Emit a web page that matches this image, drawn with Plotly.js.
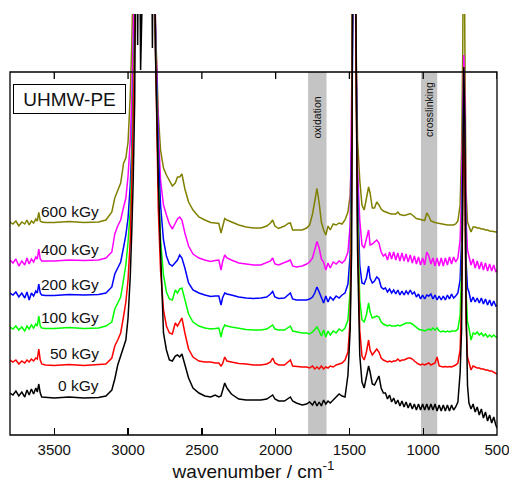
<!DOCTYPE html>
<html>
<head>
<meta charset="utf-8">
<script src="https://cdn.plot.ly/plotly-3.0.1.min.js"></script>
<style>
  html, body { margin: 0; padding: 0; background: #ffffff; }
  #chart { width: 509px; height: 489px; }
</style>
</head>
<body>
<div id="chart"></div>
<script>
// FTIR spectra of UHMW-PE after gamma irradiation, stacked by dose.
// Absorbance values (offset per spectrum); 6 marks a band saturated off the top.
const wavenumber = [
  3800,3780,3760,3740,3720,3700,3685,3670,3655,3640,3625,3615,3605,3595,3585,3560,
  3500,3400,3300,3200,3150,3110,3090,3070,3050,3030,3015,3000,2985,2975,2965,2955,
  2945,2935,2925,2915,2900,2880,2860,2845,2835,2825,
  2815,2805,2795,2780,2760,2740,2720,2700,2680,2665,2650,2635,2615,2590,2560,2520,2480,2440,2410,2385,
  2370,2360,2345,2330,2300,2250,2200,2150,2100,2060,2035,2020,2005,1980,1940,1915,1900,1885,1860,1820,
  1790,1770,1750,1735,1720,1705,1690,1675,1660,1645,1630,1610,1590,1570,1550,1530,1510,1495,1485,1475,
  1465,1455,1445,1430,1415,1400,1385,1370,1360,1345,1330,1315,1300,1285,1270,
  1256,1242,1228,1214,1200,1186,1172,1158,1144,1130,1116,1102,1088,1074,1060,1046,1032,1018,1004,990,
  976,962,948,934,920,906,892,878,864,850,836,822,808,794,
  780,765,750,740,732,725,718,710,700,
  690,676,662,648,634,620,606,592,578,564,550,536,522,508,500
];

const dose0 = [
  0.42,0.40,0.44,0.39,0.43,0.38,0.45,0.40,0.46,0.41,0.47,0.43,0.51,0.42,0.38,0.375,
  0.37,0.38,0.37,0.375,0.39,0.45,0.56,0.70,0.80,0.88,0.95,1.17,1.59,2.03,2.55,3.35,
  6,3.90,6,3.65,6,6,6,6,3.87,6,
  3.85,3.15,2.55,1.85,1.02,0.85,0.75,0.74,0.79,0.80,0.78,0.81,0.71,0.57,0.47,0.42,0.39,0.38,0.40,0.38,
  0.39,0.45,0.52,0.47,0.41,0.36,0.35,0.35,0.35,0.36,0.38,0.40,0.36,0.34,0.34,0.36,0.38,0.34,0.32,0.30,
  0.31,0.33,0.30,0.34,0.29,0.33,0.29,0.35,0.31,0.34,0.32,0.35,0.38,0.41,0.39,0.38,0.60,1.05,1.85,6,
  6,3.75,1.85,0.80,0.53,0.47,0.57,0.69,0.63,0.51,0.50,0.55,0.59,0.47,0.42,
  0.42,0.36,0.40,0.33,0.37,0.31,0.35,0.29,0.34,0.28,0.33,0.27,0.32,0.26,0.31,0.25,0.31,0.25,0.31,0.25,
  0.31,0.25,0.31,0.25,0.31,0.24,0.30,0.24,0.30,0.24,0.30,0.24,0.30,0.25,
  0.28,0.33,0.62,1.05,2.55,3.68,3.15,1.35,0.50,
  0.32,0.26,0.31,0.23,0.28,0.20,0.26,0.17,0.23,0.14,0.20,0.12,0.18,0.10,0.07
];

const dose50 = [
  0.75,0.73,0.75,0.71,0.74,0.72,0.75,0.73,0.76,0.74,0.77,0.76,0.86,0.75,0.71,0.70,
  0.695,0.705,0.695,0.70,0.71,0.77,0.89,0.95,1.02,1.19,1.33,1.55,1.95,2.50,3.15,3.85,
  6,6,6,6,6,6,6,6,6,6,
  3.95,2.95,2.25,1.65,1.25,1.09,1.02,1.01,1.12,1.09,1.13,1.17,1.02,0.86,0.78,0.74,0.73,0.73,0.72,0.72,
  0.69,0.71,0.78,0.74,0.73,0.715,0.71,0.70,0.70,0.71,0.73,0.77,0.72,0.70,0.70,0.73,0.75,0.69,0.685,0.68,
  0.68,0.67,0.69,0.66,0.68,0.66,0.69,0.66,0.68,0.67,0.69,0.68,0.70,0.71,0.72,0.75,0.83,1.15,2.35,6,
  6,3.55,2.05,1.05,0.79,0.75,0.83,0.95,0.85,0.80,0.83,0.86,0.83,0.77,0.75,
  0.74,0.73,0.74,0.73,0.74,0.74,0.76,0.74,0.75,0.75,0.76,0.77,0.77,0.76,0.74,0.72,0.71,0.70,0.71,0.70,
  0.71,0.72,0.70,0.71,0.72,0.78,0.69,0.685,0.68,0.685,0.68,0.685,0.68,0.69,
  0.70,0.72,0.85,1.35,2.55,3.25,2.55,1.15,0.78,
  0.73,0.65,0.69,0.68,0.67,0.67,0.66,0.66,0.65,0.65,0.64,0.64,0.63,0.62,0.61
];

const dose100 = [
  1.08,1.06,1.09,1.05,1.08,1.04,1.09,1.06,1.10,1.07,1.11,1.09,1.19,1.09,1.07,1.065,
  1.065,1.075,1.065,1.07,1.09,1.13,1.26,1.32,1.38,1.56,1.70,1.93,2.25,2.70,3.30,4.15,
  6,6,6,6,6,6,6,6,6,6,
  4.05,3.25,2.55,1.95,1.60,1.43,1.36,1.35,1.45,1.42,1.46,1.47,1.35,1.21,1.13,1.09,1.07,1.06,1.065,1.07,
  0.98,1.05,1.10,1.09,1.08,1.065,1.055,1.05,1.05,1.06,1.08,1.10,1.06,1.05,1.05,1.07,1.09,1.04,1.03,1.02,
  1.02,1.01,1.03,1.05,1.08,1.04,0.99,1.05,0.98,1.04,1.00,1.04,1.02,1.06,1.04,1.07,1.15,1.45,2.55,6,
  6,3.65,2.25,1.35,1.15,1.13,1.20,1.32,1.23,1.17,1.18,1.19,1.18,1.13,1.11,
  1.10,1.09,1.10,1.09,1.09,1.09,1.10,1.09,1.10,1.11,1.12,1.12,1.12,1.11,1.09,1.07,1.06,1.05,1.05,1.04,
  1.05,1.06,1.05,1.07,1.05,1.07,1.04,1.03,1.04,1.03,1.04,1.03,1.04,1.04,
  1.04,1.06,1.20,1.65,2.75,3.35,2.75,1.45,1.13,
  1.07,0.95,1.02,1.01,1.03,1.00,1.02,0.99,1.01,0.98,1.00,0.98,1.00,0.98,0.98
];

const dose200 = [
  1.42,1.40,1.43,1.38,1.42,1.37,1.43,1.35,1.42,1.39,1.44,1.42,1.51,1.42,1.40,1.395,
  1.395,1.405,1.40,1.405,1.42,1.48,1.61,1.67,1.73,1.88,2.00,2.17,2.50,2.85,3.45,4.30,
  6,6,6,6,6,6,6,6,6,6,
  4.10,3.40,2.85,2.30,1.95,1.79,1.71,1.69,1.73,1.75,1.80,1.77,1.67,1.52,1.45,1.42,1.40,1.385,1.39,1.39,
  1.30,1.37,1.42,1.41,1.40,1.38,1.37,1.365,1.37,1.38,1.41,1.435,1.38,1.365,1.37,1.40,1.42,1.36,1.35,1.35,
  1.35,1.36,1.38,1.42,1.48,1.43,1.37,1.32,1.39,1.33,1.38,1.35,1.39,1.37,1.40,1.42,1.51,1.80,2.85,6,
  6,3.75,2.45,1.70,1.52,1.51,1.57,1.69,1.57,1.52,1.54,1.58,1.56,1.48,1.46,
  1.47,1.43,1.46,1.42,1.45,1.41,1.45,1.40,1.44,1.40,1.44,1.41,1.45,1.41,1.43,1.38,1.41,1.36,1.40,1.36,
  1.40,1.39,1.41,1.36,1.40,1.35,1.39,1.35,1.39,1.35,1.40,1.36,1.41,1.37,
  1.39,1.42,1.55,1.95,2.85,3.45,2.95,1.75,1.47,
  1.43,1.33,1.38,1.33,1.37,1.32,1.37,1.31,1.36,1.30,1.35,1.29,1.34,1.29,1.30
];

const dose400 = [
  1.75,1.72,1.76,1.69,1.74,1.70,1.77,1.71,1.76,1.73,1.78,1.76,1.86,1.76,1.74,1.74,
  1.74,1.75,1.745,1.75,1.77,1.83,2.01,2.09,2.15,2.28,2.37,2.59,2.95,3.35,4.10,6,
  6,6,6,6,6,6,6,6,6,6,
  4.15,3.55,3.05,2.55,2.30,2.20,2.11,2.06,2.11,2.16,2.18,2.15,2.02,1.89,1.81,1.77,1.75,1.735,1.745,1.75,
  1.65,1.73,1.80,1.77,1.75,1.72,1.71,1.70,1.70,1.72,1.74,1.77,1.71,1.70,1.72,1.74,1.75,1.69,1.68,1.69,
  1.71,1.73,1.77,1.85,1.935,1.87,1.76,1.73,1.65,1.72,1.67,1.73,1.71,1.74,1.72,1.75,1.83,2.10,3.05,6,
  6,3.85,2.65,2.15,1.90,1.87,1.95,2.05,1.90,1.91,1.93,1.95,1.92,1.83,1.79,
  1.81,1.75,1.83,1.76,1.83,1.75,1.82,1.74,1.82,1.74,1.81,1.73,1.80,1.72,1.79,1.71,1.78,1.70,1.77,1.70,
  1.83,1.79,1.71,1.77,1.69,1.77,1.69,1.77,1.69,1.77,1.70,1.78,1.71,1.78,
  1.73,1.77,1.95,2.45,3.25,3.80,3.35,2.15,1.85,
  1.79,1.70,1.76,1.67,1.74,1.66,1.73,1.65,1.72,1.64,1.71,1.64,1.70,1.63,1.65
];

const dose600 = [
  2.13,2.11,2.14,2.09,2.13,2.11,2.15,2.10,2.14,2.12,2.16,2.14,2.225,2.14,2.13,2.125,
  2.125,2.135,2.125,2.13,2.15,2.23,2.37,2.44,2.52,2.72,2.77,2.93,3.40,3.90,6,6,
  6,6,6,6,6,6,6,6,6,6,
  4.15,3.65,3.20,2.85,2.67,2.60,2.55,2.49,2.52,2.58,2.58,2.61,2.46,2.33,2.25,2.18,2.15,2.125,2.12,2.115,
  2.02,2.09,2.165,2.15,2.13,2.10,2.08,2.07,2.07,2.09,2.12,2.15,2.09,2.065,2.09,2.115,2.12,2.05,2.05,2.05,
  2.07,2.10,2.21,2.35,2.465,2.32,2.13,2.05,2.00,2.09,2.05,2.11,2.10,2.12,2.11,2.15,2.23,2.40,2.85,6,
  6,3.95,2.95,2.55,2.30,2.25,2.35,2.48,2.42,2.27,2.27,2.33,2.30,2.26,2.24,
  2.23,2.22,2.215,2.21,2.21,2.21,2.23,2.205,2.20,2.195,2.20,2.21,2.215,2.20,2.18,2.165,2.16,2.155,2.15,2.145,
  2.22,2.19,2.14,2.13,2.125,2.12,2.115,2.11,2.105,2.105,2.10,2.10,2.10,2.10,
  2.11,2.14,2.30,2.85,3.85,6,3.95,2.45,2.13,
  2.09,2.03,2.08,2.08,2.07,2.07,2.06,2.06,2.05,2.05,2.04,2.04,2.035,2.03,2.03
];

const doseLabels = ['0 kGy', '50 kGy', '100 kGy', '200 kGy', '400 kGy', '600 kGy'];
const spectra = [dose0, dose50, dose100, dose200, dose400, dose600];
const lineColors = ['#000000', '#ff0000', '#00ff00', '#0000ff', '#ff00ff', '#808000'];
const tickValues = [3500, 3000, 2500, 2000, 1500, 1000, 500];
const bandNames = ['oxidation', 'crosslinking'];
const bandFrom = [1780, 1015];
const bandTo = [1655, 905];

// Layout constants
const FONT = 'Liberation Sans, Arial, Helvetica, sans-serif';
const TEXT = '#111111';
const frameTop = 0.8622;          // top edge of the framed box (paper units)
const tickLenPaper = 7 / 421;     // 7 px inside the frame
const labelX = 3185;              // right edge of the dose labels
const labelY = [0.50, 0.82, 1.18, 1.51, 1.853, 2.233];
const bandLabelY = [0.755, 0.772];

// Draw the highest dose first so the unirradiated spectrum ends up on top.
const traces = [];
for (let i = spectra.length - 1; i >= 0; i--) {
  traces.push({
    type: 'scatter',
    mode: 'lines',
    x: wavenumber,
    y: spectra[i],
    name: doseLabels[i],
    line: { color: lineColors[i], width: 1.5 },
    hoverinfo: 'skip'
  });
}

const shapes = [];
bandNames.forEach((n, i) => {
  shapes.push({
    type: 'rect', layer: 'below',
    xref: 'x', yref: 'paper',
    x0: bandFrom[i], x1: bandTo[i], y0: 0, y1: frameTop,
    fillcolor: '#c4c4c4', line: { width: 0 }
  });
});
// frame around the plotting box
shapes.push({
  type: 'rect', layer: 'above',
  xref: 'paper', yref: 'paper',
  x0: 0, x1: 1, y0: 0, y1: frameTop,
  line: { color: '#000000', width: 1.3 }
});
// mirrored ticks along the top edge of the frame
tickValues.forEach(v => {
  shapes.push({
    type: 'line', layer: 'above',
    xref: 'x', yref: 'paper',
    x0: v, x1: v, y0: frameTop, y1: frameTop - tickLenPaper,
    line: { color: '#000000', width: 1.3 }
  });
});

const annotations = [];
doseLabels.forEach((t, i) => {
  annotations.push({
    xref: 'x', yref: 'y', x: labelX, y: labelY[i],
    xanchor: 'right', yanchor: 'middle',
    text: t, showarrow: false,
    font: { family: FONT, size: 15.5, color: TEXT }
  });
});
bandNames.forEach((n, i) => {
  annotations.push({
    xref: 'x', yref: 'paper',
    x: (bandFrom[i] + bandTo[i]) / 2, y: bandLabelY[i],
    xanchor: 'center', yanchor: 'middle',
    text: n, textangle: -90, showarrow: false,
    font: { family: FONT, size: 10.5, color: TEXT }
  });
});
annotations.push({
  xref: 'paper', yref: 'paper', x: 0.0062, y: 0.8337,
  xanchor: 'left', yanchor: 'top',
  text: 'UHMW-PE', showarrow: false,
  font: { family: FONT, size: 19, color: TEXT },
  bgcolor: '#ffffff', bordercolor: '#000000', borderwidth: 1, borderpad: 2,
  width: 107, height: 24
});

const layout = {
  width: 509, height: 489,
  margin: { l: 10, r: 12, t: 14, b: 54 },
  paper_bgcolor: '#ffffff', plot_bgcolor: '#ffffff',
  showlegend: false,
  font: { family: FONT, color: TEXT },
  xaxis: {
    range: [3800, 500],
    tickvals: tickValues,
    ticktext: tickValues.map(String),
    ticks: 'inside', ticklen: 7, tickwidth: 1.3, tickcolor: '#000000',
    ticklabelstandoff: 4,
    ticklabeloverflow: 'allow',
    showline: false, showgrid: false, zeroline: false,
    tickfont: { family: FONT, size: 15, color: TEXT },
    title: { text: 'wavenumber / cm<sup>-1</sup>', font: { family: FONT, size: 19, color: TEXT }, standoff: 6 },
    automargin: false
  },
  yaxis: { range: [0, 4.21], visible: false, fixedrange: true },
  shapes: shapes,
  annotations: annotations
};

Plotly.newPlot('chart', traces, layout, { staticPlot: true, displayModeBar: false });
</script>
</body>
</html>
